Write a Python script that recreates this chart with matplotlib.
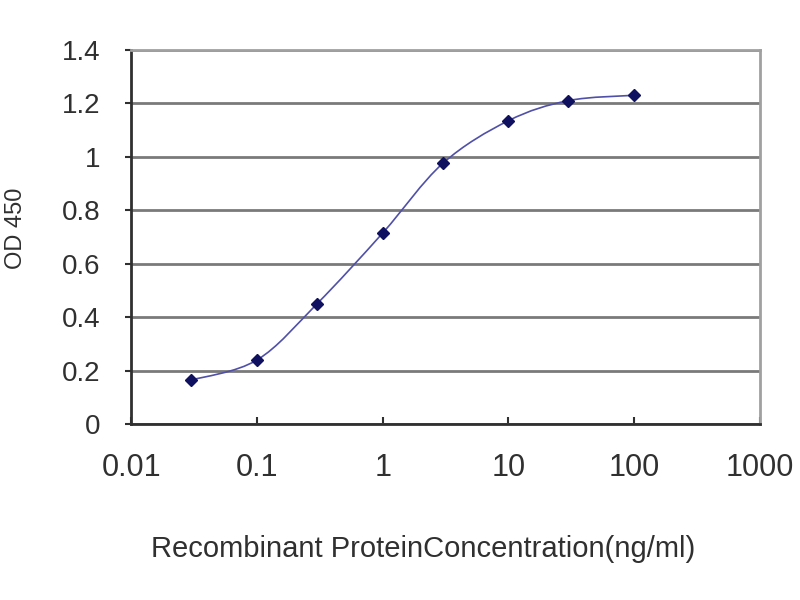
import numpy as np
import matplotlib.pyplot as plt
from matplotlib.path import Path
from matplotlib.patches import PathPatch

conc = [0.03, 0.1, 0.3, 1, 3, 10, 30, 100]
od = [0.165, 0.24, 0.45, 0.715, 0.975, 1.135, 1.21, 1.23]
xticks = [0.01, 0.1, 1, 10, 100, 1000]
xticklabels = ['0.01', '0.1', '1', '10', '100', '1000']
yticks = [0, 0.2, 0.4, 0.6, 0.8, 1, 1.2, 1.4]
yticklabels = ['0', '0.2', '0.4', '0.6', '0.8', '1', '1.2', '1.4']

plt.rcParams['font.family'] = ['Liberation Sans', 'DejaVu Sans']

fig = plt.figure(figsize=(8, 6), dpi=100)
ax = fig.add_axes([0.164, 0.293, 0.786, 0.624])
ax.set_xscale('log')
ax.set_xlim(0.01, 1000)
ax.set_ylim(0, 1.4)

# smoothed line like a spreadsheet chart: Catmull-Rom style bezier in log space
lx = np.log10(conc)
ly = np.array(od)
verts = [(lx[0], ly[0])]
codes = [Path.MOVETO]
n = len(lx)
for i in range(n - 1):
    p0 = (lx[max(i - 1, 0)], ly[max(i - 1, 0)])
    p1 = (lx[i], ly[i])
    p2 = (lx[i + 1], ly[i + 1])
    p3 = (lx[min(i + 2, n - 1)], ly[min(i + 2, n - 1)])
    c1 = (p1[0] + (p2[0] - p0[0]) / 6, p1[1] + (p2[1] - p0[1]) / 6)
    c2 = (p2[0] - (p3[0] - p1[0]) / 6, p2[1] - (p3[1] - p1[1]) / 6)
    verts += [c1, c2, p2]
    codes += [Path.CURVE4] * 3
verts = [(10 ** vx, vy) for vx, vy in verts]
ax.add_patch(PathPatch(Path(verts, codes), facecolor='none',
                       edgecolor='#5050a8', lw=1.2, zorder=3))
ax.plot(conc, od, linestyle='none', marker='D', markersize=6,
        color='#101060', zorder=4)

ax.set_yticks(yticks)
ax.set_yticklabels(yticklabels)
ax.set_xticks(xticks)
ax.set_xticklabels(xticklabels)
ax.minorticks_off()
ax.yaxis.grid(True, color='#7a7a7a', lw=2)
ax.set_axisbelow(True)
ax.tick_params(axis='x', direction='in', length=5, width=1.5,
               labelsize=22, pad=21, colors='#303030')
ax.tick_params(axis='y', direction='out', length=4, width=1.5,
               labelsize=20, pad=18, colors='#303030')
for s in ['left', 'bottom']:
    ax.spines[s].set_color('#303030')
    ax.spines[s].set_linewidth(2)
for s in ['top', 'right']:
    ax.spines[s].set_color('#a0a0a0')
    ax.spines[s].set_linewidth(2)

ax.set_ylabel('OD 450', fontsize=17, color='#303030')
ax.yaxis.set_label_coords(-0.165, 0.524)
ax.set_xlabel('Recombinant ProteinConcentration(ng/ml)', fontsize=21,
              color='#303030')
ax.xaxis.set_label_coords(0.464, -0.297)

fig.savefig('out.png')
